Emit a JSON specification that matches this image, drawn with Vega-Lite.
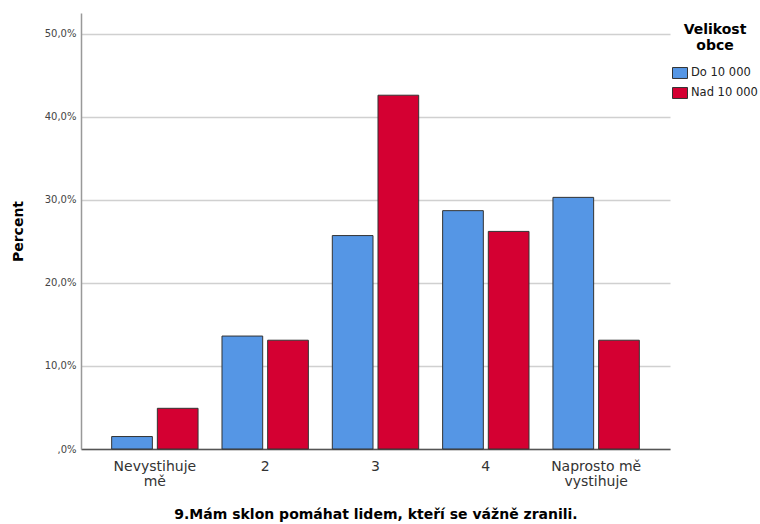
{
  "$schema": "https://vega.github.io/schema/vega-lite/v6.json",
  "width": 589,
  "height": 436,
  "autosize": {"type": "none"},
  "padding": {"left": 81, "top": 13, "right": 90, "bottom": 75},
  "background": "white",
  "config": {
    "view": {"stroke": null},
    "font": "DejaVu Sans"
  },
  "data": {
    "values": [
      {"odpoved": "Nevystihuje mě", "obec": "Do 10 000", "procento": 1.5},
      {"odpoved": "Nevystihuje mě", "obec": "Nad 10 000", "procento": 4.9},
      {"odpoved": "2", "obec": "Do 10 000", "procento": 13.6},
      {"odpoved": "2", "obec": "Nad 10 000", "procento": 13.1},
      {"odpoved": "3", "obec": "Do 10 000", "procento": 25.7},
      {"odpoved": "3", "obec": "Nad 10 000", "procento": 42.6},
      {"odpoved": "4", "obec": "Do 10 000", "procento": 28.7},
      {"odpoved": "4", "obec": "Nad 10 000", "procento": 26.2},
      {"odpoved": "Naprosto mě vystihuje", "obec": "Do 10 000", "procento": 30.3},
      {"odpoved": "Naprosto mě vystihuje", "obec": "Nad 10 000", "procento": 13.1}
    ]
  },
  "mark": {"type": "bar", "stroke": "#333333", "strokeWidth": 1},
  "encoding": {
    "x": {
      "field": "odpoved",
      "type": "nominal",
      "sort": ["Nevystihuje mě", "2", "3", "4", "Naprosto mě vystihuje"],
      "scale": {"paddingInner": 0.217, "paddingOuter": 0.278},
      "axis": {
        "title": "9.Mám sklon pomáhat lidem, kteří se vážně zranili.",
        "titleFont": "DejaVu Sans",
        "titleFontSize": 14,
        "titleFontWeight": "bold",
        "titleColor": "#000000",
        "titlePadding": 19,
        "labelAngle": 0,
        "labelFont": "DejaVu Sans",
        "labelFontSize": 14,
        "labelColor": "#333333",
        "labelPadding": 10,
        "labelLineHeight": 15,
        "labelBaseline": "top",
        "labelExpr": "datum.value == 'Nevystihuje mě' ? ['Nevystihuje', 'mě'] : datum.value == 'Naprosto mě vystihuje' ? ['Naprosto mě', 'vystihuje'] : datum.value",
        "ticks": false,
        "domainColor": "#555555",
        "domainWidth": 1.5,
        "grid": false
      }
    },
    "xOffset": {
      "field": "obec",
      "type": "nominal",
      "sort": ["Do 10 000", "Nad 10 000"],
      "scale": {"paddingInner": 0.109, "paddingOuter": 0}
    },
    "y": {
      "field": "procento",
      "type": "quantitative",
      "scale": {"domain": [0, 52.5], "nice": false},
      "axis": {
        "title": "Percent",
        "titleFont": "DejaVu Sans",
        "titleFontSize": 14,
        "titleFontWeight": "bold",
        "titleColor": "#000000",
        "titlePadding": 19,
        "values": [0, 10, 20, 30, 40, 50],
        "labelExpr": "datum.value == 0 ? ',0%' : replace(format(datum.value, '.1f'), '.', ',') + '%'",
        "labelFont": "DejaVu Sans",
        "labelFontSize": 10,
        "labelColor": "#444444",
        "labelPadding": 5,
        "ticks": false,
        "domainColor": "#999999",
        "domainWidth": 1.5,
        "grid": true,
        "gridColor": "#D0D0D0",
        "gridWidth": 1.3
      }
    },
    "fill": {
      "field": "obec",
      "type": "nominal",
      "sort": ["Do 10 000", "Nad 10 000"],
      "scale": {"domain": ["Do 10 000", "Nad 10 000"], "range": ["#5596E5", "#D40032"]},
      "legend": {
        "title": ["Velikost", "obce"],
        "titleFont": "DejaVu Sans",
        "titleFontSize": 14,
        "titleFontWeight": "bold",
        "titleColor": "#000000",
        "titleAlign": "center",
        "titleAnchor": "middle",
        "titleLineHeight": 16,
        "titlePadding": 12,
        "orient": "none",
        "legendX": 591,
        "legendY": 10,
        "padding": 0,
        "labelFont": "DejaVu Sans",
        "labelFontSize": 11.5,
        "labelColor": "#222222",
        "labelOffset": 3,
        "rowPadding": 4,
        "symbolType": "M-1,-0.73H1V0.73H-1Z",
        "symbolSize": 225,
        "symbolStrokeColor": "#333333",
        "symbolStrokeWidth": 1
      }
    }
  }
}
